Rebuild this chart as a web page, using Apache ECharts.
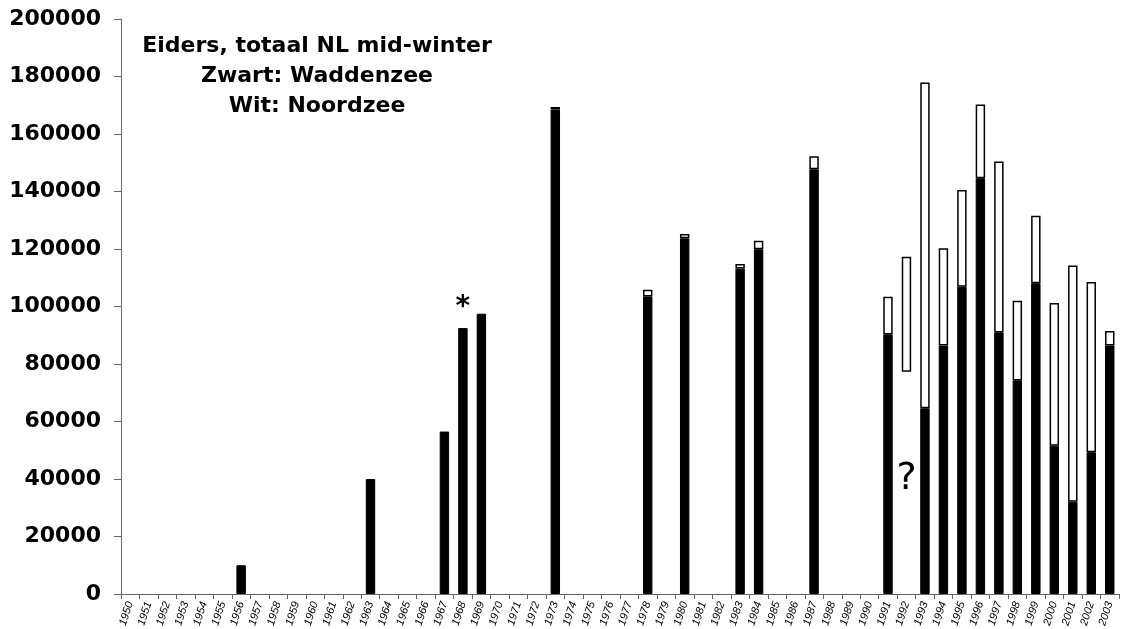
<!DOCTYPE html>
<html>
<head>
<meta charset="utf-8">
<script src="https://cdn.jsdelivr.net/npm/echarts@6/dist/echarts.min.js"></script>
<style>
  html, body { margin: 0; padding: 0; background: #fff; }
  #chart { width: 1121px; height: 629px; }
</style>
</head>
<body>
<div id="chart"></div>
<script>
// Years (categories)
const years = [];
for (let y = 1950; y <= 2003; y++) years.push(String(y));

// Waddenzee (black) – counted years only
const waddenzeeByYear = {
  1956: 10000, 1963: 40000, 1967: 56500, 1968: 92500, 1969: 97500,
  1973: 168500, 1978: 103500, 1980: 123700, 1983: 113200, 1984: 119900,
  1987: 147700, 1991: 90300, 1993: 64600, 1994: 86400, 1995: 106900,
  1996: 144600, 1997: 91000, 1998: 74300, 1999: 108100, 2000: 51600,
  2001: 32100, 2002: 49300, 2003: 86400
};
// Noordzee (white)
const noordzeeByYear = {
  1973: 900, 1978: 2300, 1980: 1500, 1983: 1600, 1984: 3000, 1987: 4600,
  1991: 13100, 1992: 40000, 1993: 113300, 1994: 33900, 1995: 33600,
  1996: 25700, 1997: 59400, 1998: 27700, 1999: 23500, 2000: 49600,
  2001: 82200, 2002: 59200, 2003: 5100
};
// Unknown Waddenzee count (1992, marked "?") – invisible base under the white bar
const unknownByYear = { 1992: 77300 };

const yTicks = [0, 20000, 40000, 60000, 80000, 100000, 120000, 140000, 160000, 180000, 200000];

const toSeries = (obj) => years.map(y => (obj[y] !== undefined ? obj[y] : '-'));
const waddenzee = toSeries(waddenzeeByYear);
const noordzee = toSeries(noordzeeByYear);
const unknown = toSeries(unknownByYear);

// annotation labels
const waddenzeeData = waddenzee.map((v, i) => years[i] === '1968'
  ? { value: v, label: { show: true, position: 'top', formatter: '*', fontSize: 28, fontWeight: 'bold', color: '#000', fontFamily: 'DejaVu Sans', distance: 6 } }
  : v);
const unknownData = unknown.map((v, i) => years[i] === '1992'
  ? { value: v, label: { show: true, position: 'inside', offset: [0, -4], formatter: '?', fontSize: 38, color: '#000', fontFamily: 'DejaVu Sans' } }
  : v);

const chart = echarts.init(document.getElementById('chart'), null, { renderer: 'canvas' });
chart.setOption({
  animation: false,
  backgroundColor: '#fff',
  title: {
    text: 'Eiders, totaal NL mid-winter\nZwart: Waddenzee\nWit: Noordzee',
    left: 317, top: 31, padding: 0,
    textAlign: 'center',
    textStyle: { fontFamily: 'DejaVu Sans', fontWeight: 'bold', fontSize: 22, lineHeight: 30, color: '#000', align: 'center' }
  },
  grid: { left: 121, right: 2, top: 19, bottom: 35, containLabel: false, outerBoundsMode: 'none' },
  xAxis: {
    type: 'category',
    data: years,
    boundaryGap: true,
    axisLine: { lineStyle: { color: '#666', width: 1 } },
    axisTick: { show: true, interval: 0, length: 5, lineStyle: { color: '#666' } },
    axisLabel: { interval: 0, rotate: 72, fontSize: 11, fontStyle: 'italic', color: '#000', fontFamily: 'Liberation Sans', margin: 8 },
    splitLine: { show: false }
  },
  yAxis: {
    type: 'value',
    min: 0, max: 200000, interval: 20000,
    axisLine: { show: true, lineStyle: { color: '#666', width: 1 } },
    axisTick: { show: true, length: 7, inside: false, lineStyle: { color: '#666' } },
    axisLabel: {
      fontFamily: 'DejaVu Sans', fontWeight: 'bold', fontSize: 22, color: '#000', margin: 20,
      formatter: (v) => (yTicks.indexOf(v) >= 0 ? String(v) : '')
    },
    splitLine: { show: false }
  },
  series: [
    {
      name: 'Waddenzee', type: 'bar', stack: 'total', barWidth: '51%',
      data: waddenzeeData,
      itemStyle: { color: '#000', borderColor: '#000', borderWidth: 1 }
    },
    {
      name: 'Onbekend', type: 'bar', stack: 'total', barWidth: '51%',
      data: unknownData,
      itemStyle: { color: 'rgba(0,0,0,0)', borderWidth: 0 }
    },
    {
      name: 'Noordzee', type: 'bar', stack: 'total', barWidth: '51%',
      data: noordzee,
      itemStyle: { color: '#fff', borderColor: '#000', borderWidth: 1.5 }
    }
  ]
});
</script>
</body>
</html>
